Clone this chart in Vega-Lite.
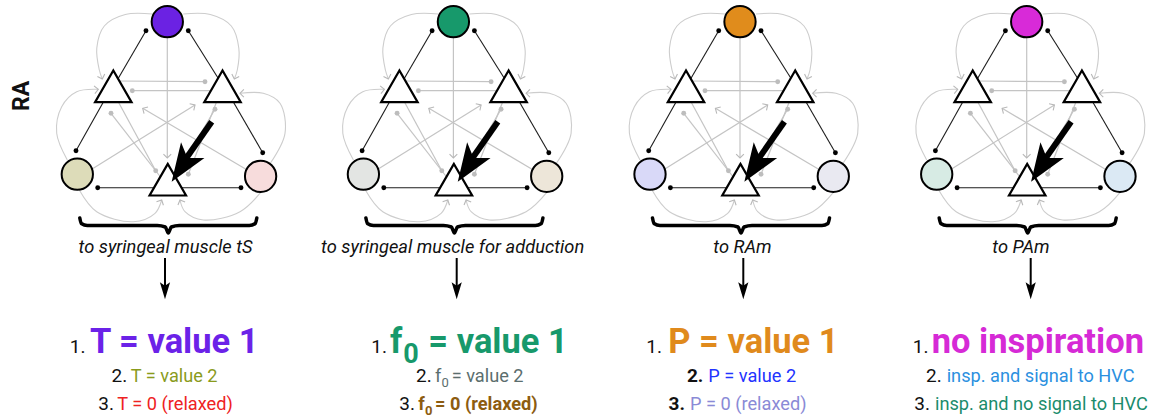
{
  "$schema": "https://vega.github.io/schema/vega-lite/v6.json",
  "width": 1151,
  "height": 419,
  "autosize": {"type": "fit", "contains": "padding"},
  "padding": 0,
  "background": "#ffffff",
  "config": {"view": {"stroke": null}},
  "datasets": {
    "circles": [
      {"x": 167.3, "y": 21.7, "f": "top1"}, {"x": 77.3, "y": 174.2, "f": "l1"}, {"x": 260.6, "y": 176.3, "f": "r1"},
      {"x": 453.4, "y": 21.7, "f": "top2"}, {"x": 363.4, "y": 174.2, "f": "l2"}, {"x": 546.7, "y": 176.3, "f": "r2"},
      {"x": 740.0, "y": 21.7, "f": "top3"}, {"x": 650.0, "y": 174.2, "f": "l3"}, {"x": 833.3, "y": 176.3, "f": "r3"},
      {"x": 1026.7, "y": 21.7, "f": "top4"}, {"x": 936.7, "y": 174.2, "f": "l4"}, {"x": 1120.0, "y": 176.3, "f": "r4"}
    ],
    "tris": [
      {"x": 113.3, "y": 86.3}, {"x": 222.5, "y": 86.3}, {"x": 167.8, "y": 179.7},
      {"x": 399.4, "y": 86.3}, {"x": 508.6, "y": 86.3}, {"x": 453.9, "y": 179.7},
      {"x": 686.0, "y": 86.3}, {"x": 795.2, "y": 86.3}, {"x": 740.5, "y": 179.7},
      {"x": 972.7, "y": 86.3}, {"x": 1081.9, "y": 86.3}, {"x": 1027.2, "y": 179.7}
    ],
    "rules": [
      {"k": "b", "x": 146.0, "y": 30.7, "x2": 117.3, "y2": 80},
      {"k": "b", "x": 188.3, "y": 30.7, "x2": 219.3, "y2": 80},
      {"k": "b", "x": 107.3, "y": 95, "x2": 76.0, "y2": 150.7},
      {"k": "b", "x": 229.3, "y": 95, "x2": 262.7, "y2": 152.7},
      {"k": "b", "x": 97.7, "y": 187.7, "x2": 162.3, "y2": 187.7},
      {"k": "b", "x": 173.3, "y": 187.7, "x2": 241.0, "y2": 187.7},
      {"k": "g", "x": 117.3, "y": 81, "x2": 205.0, "y2": 81.7},
      {"k": "g", "x": 217.3, "y": 90.7, "x2": 132.3, "y2": 90.7},
      {"k": "g", "x": 167.3, "y": 30, "x2": 167.3, "y2": 158},
      {"k": "g", "x": 87.3, "y": 172, "x2": 195.0, "y2": 105},
      {"k": "g", "x": 252.3, "y": 173, "x2": 142.7, "y2": 108.3},
      {"k": "g", "x": 117.3, "y": 100, "x2": 155.7, "y2": 170.7},
      {"k": "g", "x": 111.0, "y": 113.3, "x2": 161.3, "y2": 178},
      {"k": "g", "x": 217.3, "y": 100, "x2": 188.3, "y2": 174.3},
      {"k": "g", "x": 215.0, "y": 109.3, "x2": 174.3, "y2": 178},
      {"k": "w", "x": 211.7, "y": 121.7, "x2": 185.0, "y2": 160},
      {"k": "d", "x": 165, "y": 258, "x2": 165, "y2": 287},

      {"k": "b", "x": 432.1, "y": 30.7, "x2": 403.4, "y2": 80},
      {"k": "b", "x": 474.4, "y": 30.7, "x2": 505.4, "y2": 80},
      {"k": "b", "x": 393.4, "y": 95, "x2": 362.1, "y2": 150.7},
      {"k": "b", "x": 515.4, "y": 95, "x2": 548.8, "y2": 152.7},
      {"k": "b", "x": 383.8, "y": 187.7, "x2": 448.4, "y2": 187.7},
      {"k": "b", "x": 459.4, "y": 187.7, "x2": 527.1, "y2": 187.7},
      {"k": "g", "x": 403.4, "y": 81, "x2": 491.1, "y2": 81.7},
      {"k": "g", "x": 503.4, "y": 90.7, "x2": 418.4, "y2": 90.7},
      {"k": "g", "x": 453.4, "y": 30, "x2": 453.4, "y2": 158},
      {"k": "g", "x": 373.4, "y": 172, "x2": 481.1, "y2": 105},
      {"k": "g", "x": 538.4, "y": 173, "x2": 428.8, "y2": 108.3},
      {"k": "g", "x": 403.4, "y": 100, "x2": 441.8, "y2": 170.7},
      {"k": "g", "x": 397.1, "y": 113.3, "x2": 447.4, "y2": 178},
      {"k": "g", "x": 503.4, "y": 100, "x2": 474.4, "y2": 174.3},
      {"k": "g", "x": 501.1, "y": 109.3, "x2": 460.4, "y2": 178},
      {"k": "w", "x": 497.8, "y": 121.7, "x2": 471.1, "y2": 160},
      {"k": "d", "x": 456.7, "y": 258, "x2": 456.7, "y2": 287},

      {"k": "b", "x": 718.7, "y": 30.7, "x2": 690.0, "y2": 80},
      {"k": "b", "x": 761.0, "y": 30.7, "x2": 792.0, "y2": 80},
      {"k": "b", "x": 680.0, "y": 95, "x2": 648.7, "y2": 150.7},
      {"k": "b", "x": 802.0, "y": 95, "x2": 835.4, "y2": 152.7},
      {"k": "b", "x": 670.4, "y": 187.7, "x2": 735.0, "y2": 187.7},
      {"k": "b", "x": 746.0, "y": 187.7, "x2": 813.7, "y2": 187.7},
      {"k": "g", "x": 690.0, "y": 81, "x2": 777.7, "y2": 81.7},
      {"k": "g", "x": 790.0, "y": 90.7, "x2": 705.0, "y2": 90.7},
      {"k": "g", "x": 740.0, "y": 30, "x2": 740.0, "y2": 158},
      {"k": "g", "x": 660.0, "y": 172, "x2": 767.7, "y2": 105},
      {"k": "g", "x": 825.0, "y": 173, "x2": 715.4, "y2": 108.3},
      {"k": "g", "x": 690.0, "y": 100, "x2": 728.4, "y2": 170.7},
      {"k": "g", "x": 683.7, "y": 113.3, "x2": 734.0, "y2": 178},
      {"k": "g", "x": 790.0, "y": 100, "x2": 761.0, "y2": 174.3},
      {"k": "g", "x": 787.7, "y": 109.3, "x2": 747.0, "y2": 178},
      {"k": "w", "x": 784.4, "y": 121.7, "x2": 757.7, "y2": 160},
      {"k": "d", "x": 743.3, "y": 258, "x2": 743.3, "y2": 287},

      {"k": "b", "x": 1005.4, "y": 30.7, "x2": 976.7, "y2": 80},
      {"k": "b", "x": 1047.7, "y": 30.7, "x2": 1078.7, "y2": 80},
      {"k": "b", "x": 966.7, "y": 95, "x2": 935.4, "y2": 150.7},
      {"k": "b", "x": 1088.7, "y": 95, "x2": 1122.1, "y2": 152.7},
      {"k": "b", "x": 957.1, "y": 187.7, "x2": 1021.7, "y2": 187.7},
      {"k": "b", "x": 1032.7, "y": 187.7, "x2": 1100.4, "y2": 187.7},
      {"k": "g", "x": 976.7, "y": 81, "x2": 1064.4, "y2": 81.7},
      {"k": "g", "x": 1076.7, "y": 90.7, "x2": 991.7, "y2": 90.7},
      {"k": "g", "x": 1026.7, "y": 30, "x2": 1026.7, "y2": 158},
      {"k": "g", "x": 946.7, "y": 172, "x2": 1054.4, "y2": 105},
      {"k": "g", "x": 1111.7, "y": 173, "x2": 1002.1, "y2": 108.3},
      {"k": "g", "x": 976.7, "y": 100, "x2": 1015.1, "y2": 170.7},
      {"k": "g", "x": 970.4, "y": 113.3, "x2": 1020.7, "y2": 178},
      {"k": "g", "x": 1076.7, "y": 100, "x2": 1047.7, "y2": 174.3},
      {"k": "g", "x": 1074.4, "y": 109.3, "x2": 1033.7, "y2": 178},
      {"k": "w", "x": 1071.1, "y": 121.7, "x2": 1044.4, "y2": 160},
      {"k": "d", "x": 1030.7, "y": 258, "x2": 1030.7, "y2": 287}
    ],
    "dots": [
      {"k": "b", "x": 146.0, "y": 30.7}, {"k": "b", "x": 188.3, "y": 30.7}, {"k": "b", "x": 76.0, "y": 150.7}, {"k": "b", "x": 262.7, "y": 152.7}, {"k": "b", "x": 97.7, "y": 187.7}, {"k": "b", "x": 241.0, "y": 187.7},
      {"k": "b", "x": 432.1, "y": 30.7}, {"k": "b", "x": 474.4, "y": 30.7}, {"k": "b", "x": 362.1, "y": 150.7}, {"k": "b", "x": 548.8, "y": 152.7}, {"k": "b", "x": 383.8, "y": 187.7}, {"k": "b", "x": 527.1, "y": 187.7},
      {"k": "b", "x": 718.7, "y": 30.7}, {"k": "b", "x": 761.0, "y": 30.7}, {"k": "b", "x": 648.7, "y": 150.7}, {"k": "b", "x": 835.4, "y": 152.7}, {"k": "b", "x": 670.4, "y": 187.7}, {"k": "b", "x": 813.7, "y": 187.7},
      {"k": "b", "x": 1005.4, "y": 30.7}, {"k": "b", "x": 1047.7, "y": 30.7}, {"k": "b", "x": 935.4, "y": 150.7}, {"k": "b", "x": 1122.1, "y": 152.7}, {"k": "b", "x": 957.1, "y": 187.7}, {"k": "b", "x": 1100.4, "y": 187.7},
      {"k": "g", "x": 205.0, "y": 81.7}, {"k": "g", "x": 132.3, "y": 90.7}, {"k": "g", "x": 155.7, "y": 170.7}, {"k": "g", "x": 111.0, "y": 113.3}, {"k": "g", "x": 188.3, "y": 174.3}, {"k": "g", "x": 215.0, "y": 109.3},
      {"k": "g", "x": 491.1, "y": 81.7}, {"k": "g", "x": 418.4, "y": 90.7}, {"k": "g", "x": 441.8, "y": 170.7}, {"k": "g", "x": 397.1, "y": 113.3}, {"k": "g", "x": 474.4, "y": 174.3}, {"k": "g", "x": 501.1, "y": 109.3},
      {"k": "g", "x": 777.7, "y": 81.7}, {"k": "g", "x": 705.0, "y": 90.7}, {"k": "g", "x": 728.4, "y": 170.7}, {"k": "g", "x": 683.7, "y": 113.3}, {"k": "g", "x": 761.0, "y": 174.3}, {"k": "g", "x": 787.7, "y": 109.3},
      {"k": "g", "x": 1064.4, "y": 81.7}, {"k": "g", "x": 991.7, "y": 90.7}, {"k": "g", "x": 1015.1, "y": 170.7}, {"k": "g", "x": 970.4, "y": 113.3}, {"k": "g", "x": 1047.7, "y": 174.3}, {"k": "g", "x": 1074.4, "y": 109.3}
    ],
    "heads": [
      {"k": "o", "x": 167.3, "y": 158, "a": 0}, {"k": "o", "x": 195.0, "y": 105, "a": 237.8}, {"k": "o", "x": 142.7, "y": 108.3, "a": 120.8},
      {"k": "o", "x": 102.3, "y": 79, "a": 341.6}, {"k": "o", "x": 234.3, "y": 79, "a": 18.4}, {"k": "o", "x": 98.3, "y": 89.3, "a": 263.7},
      {"k": "o", "x": 240.0, "y": 93.3, "a": 90}, {"k": "o", "x": 161.7, "y": 200, "a": 206.8}, {"k": "o", "x": 180.0, "y": 200, "a": 157},
      {"k": "o", "x": 453.4, "y": 158, "a": 0}, {"k": "o", "x": 481.1, "y": 105, "a": 237.8}, {"k": "o", "x": 428.8, "y": 108.3, "a": 120.8},
      {"k": "o", "x": 388.4, "y": 79, "a": 341.6}, {"k": "o", "x": 520.4, "y": 79, "a": 18.4}, {"k": "o", "x": 384.4, "y": 89.3, "a": 263.7},
      {"k": "o", "x": 526.1, "y": 93.3, "a": 90}, {"k": "o", "x": 447.8, "y": 200, "a": 206.8}, {"k": "o", "x": 466.1, "y": 200, "a": 157},
      {"k": "o", "x": 740.0, "y": 158, "a": 0}, {"k": "o", "x": 767.7, "y": 105, "a": 237.8}, {"k": "o", "x": 715.4, "y": 108.3, "a": 120.8},
      {"k": "o", "x": 675.0, "y": 79, "a": 341.6}, {"k": "o", "x": 807.0, "y": 79, "a": 18.4}, {"k": "o", "x": 671.0, "y": 89.3, "a": 263.7},
      {"k": "o", "x": 812.7, "y": 93.3, "a": 90}, {"k": "o", "x": 734.4, "y": 200, "a": 206.8}, {"k": "o", "x": 752.7, "y": 200, "a": 157},
      {"k": "o", "x": 1026.7, "y": 158, "a": 0}, {"k": "o", "x": 1054.4, "y": 105, "a": 237.8}, {"k": "o", "x": 1002.1, "y": 108.3, "a": 120.8},
      {"k": "o", "x": 961.7, "y": 79, "a": 341.6}, {"k": "o", "x": 1093.7, "y": 79, "a": 18.4}, {"k": "o", "x": 957.7, "y": 89.3, "a": 263.7},
      {"k": "o", "x": 1099.4, "y": 93.3, "a": 90}, {"k": "o", "x": 1021.1, "y": 200, "a": 206.8}, {"k": "o", "x": 1039.4, "y": 200, "a": 157},
      {"k": "w", "x": 182.2, "y": 165.9, "a": 33.7}, {"k": "w", "x": 468.3, "y": 165.9, "a": 33.7}, {"k": "w", "x": 754.9, "y": 165.9, "a": 33.7}, {"k": "w", "x": 1041.6, "y": 165.9, "a": 33.7},
      {"k": "d", "x": 165, "y": 290.8, "a": 0}, {"k": "d", "x": 456.7, "y": 290.8, "a": 0}, {"k": "d", "x": 743.3, "y": 290.8, "a": 0}, {"k": "d", "x": 1030.7, "y": 290.8, "a": 0}
    ],
    "curves": [
      {"id": "1a", "i": 0, "x": 152.3, "y": 14}, {"id": "1a", "i": 1, "x": 125.3, "y": 14.5}, {"id": "1a", "i": 2, "x": 104.3, "y": 26}, {"id": "1a", "i": 3, "x": 96.8, "y": 48}, {"id": "1a", "i": 4, "x": 99.3, "y": 70}, {"id": "1a", "i": 5, "x": 102.3, "y": 79},
      {"id": "1b", "i": 0, "x": 183.3, "y": 14}, {"id": "1b", "i": 1, "x": 210.3, "y": 14.5}, {"id": "1b", "i": 2, "x": 231.3, "y": 26}, {"id": "1b", "i": 3, "x": 238.8, "y": 48}, {"id": "1b", "i": 4, "x": 237.3, "y": 70}, {"id": "1b", "i": 5, "x": 234.3, "y": 79},
      {"id": "1c", "i": 0, "x": 67.3, "y": 160}, {"id": "1c", "i": 1, "x": 56.7, "y": 133.3}, {"id": "1c", "i": 2, "x": 61.7, "y": 106.7}, {"id": "1c", "i": 3, "x": 76.7, "y": 91.7}, {"id": "1c", "i": 4, "x": 98.3, "y": 89.3},
      {"id": "1d", "i": 0, "x": 270.3, "y": 163.3}, {"id": "1d", "i": 1, "x": 285.0, "y": 133.3}, {"id": "1d", "i": 2, "x": 280.0, "y": 103.3}, {"id": "1d", "i": 3, "x": 263.3, "y": 93.3}, {"id": "1d", "i": 4, "x": 240.0, "y": 93.3},
      {"id": "1e", "i": 0, "x": 79.3, "y": 190}, {"id": "1e", "i": 1, "x": 96.7, "y": 211.7}, {"id": "1e", "i": 2, "x": 133.3, "y": 221.7}, {"id": "1e", "i": 3, "x": 155.0, "y": 213.3}, {"id": "1e", "i": 4, "x": 161.7, "y": 200},
      {"id": "1f", "i": 0, "x": 261.3, "y": 191.7}, {"id": "1f", "i": 1, "x": 240.0, "y": 211.7}, {"id": "1f", "i": 2, "x": 203.3, "y": 220}, {"id": "1f", "i": 3, "x": 185.0, "y": 211.7}, {"id": "1f", "i": 4, "x": 180.0, "y": 200},

      {"id": "2a", "i": 0, "x": 438.4, "y": 14}, {"id": "2a", "i": 1, "x": 411.4, "y": 14.5}, {"id": "2a", "i": 2, "x": 390.4, "y": 26}, {"id": "2a", "i": 3, "x": 382.9, "y": 48}, {"id": "2a", "i": 4, "x": 385.4, "y": 70}, {"id": "2a", "i": 5, "x": 388.4, "y": 79},
      {"id": "2b", "i": 0, "x": 469.4, "y": 14}, {"id": "2b", "i": 1, "x": 496.4, "y": 14.5}, {"id": "2b", "i": 2, "x": 517.4, "y": 26}, {"id": "2b", "i": 3, "x": 524.9, "y": 48}, {"id": "2b", "i": 4, "x": 523.4, "y": 70}, {"id": "2b", "i": 5, "x": 520.4, "y": 79},
      {"id": "2c", "i": 0, "x": 353.4, "y": 160}, {"id": "2c", "i": 1, "x": 342.8, "y": 133.3}, {"id": "2c", "i": 2, "x": 347.8, "y": 106.7}, {"id": "2c", "i": 3, "x": 362.8, "y": 91.7}, {"id": "2c", "i": 4, "x": 384.4, "y": 89.3},
      {"id": "2d", "i": 0, "x": 556.4, "y": 163.3}, {"id": "2d", "i": 1, "x": 571.1, "y": 133.3}, {"id": "2d", "i": 2, "x": 566.1, "y": 103.3}, {"id": "2d", "i": 3, "x": 549.4, "y": 93.3}, {"id": "2d", "i": 4, "x": 526.1, "y": 93.3},
      {"id": "2e", "i": 0, "x": 365.4, "y": 190}, {"id": "2e", "i": 1, "x": 382.8, "y": 211.7}, {"id": "2e", "i": 2, "x": 419.4, "y": 221.7}, {"id": "2e", "i": 3, "x": 441.1, "y": 213.3}, {"id": "2e", "i": 4, "x": 447.8, "y": 200},
      {"id": "2f", "i": 0, "x": 547.4, "y": 191.7}, {"id": "2f", "i": 1, "x": 526.1, "y": 211.7}, {"id": "2f", "i": 2, "x": 489.4, "y": 220}, {"id": "2f", "i": 3, "x": 471.1, "y": 211.7}, {"id": "2f", "i": 4, "x": 466.1, "y": 200},

      {"id": "3a", "i": 0, "x": 725.0, "y": 14}, {"id": "3a", "i": 1, "x": 698.0, "y": 14.5}, {"id": "3a", "i": 2, "x": 677.0, "y": 26}, {"id": "3a", "i": 3, "x": 669.5, "y": 48}, {"id": "3a", "i": 4, "x": 672.0, "y": 70}, {"id": "3a", "i": 5, "x": 675.0, "y": 79},
      {"id": "3b", "i": 0, "x": 756.0, "y": 14}, {"id": "3b", "i": 1, "x": 783.0, "y": 14.5}, {"id": "3b", "i": 2, "x": 804.0, "y": 26}, {"id": "3b", "i": 3, "x": 811.5, "y": 48}, {"id": "3b", "i": 4, "x": 810.0, "y": 70}, {"id": "3b", "i": 5, "x": 807.0, "y": 79},
      {"id": "3c", "i": 0, "x": 640.0, "y": 160}, {"id": "3c", "i": 1, "x": 629.4, "y": 133.3}, {"id": "3c", "i": 2, "x": 634.4, "y": 106.7}, {"id": "3c", "i": 3, "x": 649.4, "y": 91.7}, {"id": "3c", "i": 4, "x": 671.0, "y": 89.3},
      {"id": "3d", "i": 0, "x": 843.0, "y": 163.3}, {"id": "3d", "i": 1, "x": 857.7, "y": 133.3}, {"id": "3d", "i": 2, "x": 852.7, "y": 103.3}, {"id": "3d", "i": 3, "x": 836.0, "y": 93.3}, {"id": "3d", "i": 4, "x": 812.7, "y": 93.3},
      {"id": "3e", "i": 0, "x": 652.0, "y": 190}, {"id": "3e", "i": 1, "x": 669.4, "y": 211.7}, {"id": "3e", "i": 2, "x": 706.0, "y": 221.7}, {"id": "3e", "i": 3, "x": 727.7, "y": 213.3}, {"id": "3e", "i": 4, "x": 734.4, "y": 200},
      {"id": "3f", "i": 0, "x": 834.0, "y": 191.7}, {"id": "3f", "i": 1, "x": 812.7, "y": 211.7}, {"id": "3f", "i": 2, "x": 776.0, "y": 220}, {"id": "3f", "i": 3, "x": 757.7, "y": 211.7}, {"id": "3f", "i": 4, "x": 752.7, "y": 200},

      {"id": "4a", "i": 0, "x": 1011.7, "y": 14}, {"id": "4a", "i": 1, "x": 984.7, "y": 14.5}, {"id": "4a", "i": 2, "x": 963.7, "y": 26}, {"id": "4a", "i": 3, "x": 956.2, "y": 48}, {"id": "4a", "i": 4, "x": 958.7, "y": 70}, {"id": "4a", "i": 5, "x": 961.7, "y": 79},
      {"id": "4b", "i": 0, "x": 1042.7, "y": 14}, {"id": "4b", "i": 1, "x": 1069.7, "y": 14.5}, {"id": "4b", "i": 2, "x": 1090.7, "y": 26}, {"id": "4b", "i": 3, "x": 1098.2, "y": 48}, {"id": "4b", "i": 4, "x": 1096.7, "y": 70}, {"id": "4b", "i": 5, "x": 1093.7, "y": 79},
      {"id": "4c", "i": 0, "x": 926.7, "y": 160}, {"id": "4c", "i": 1, "x": 916.1, "y": 133.3}, {"id": "4c", "i": 2, "x": 921.1, "y": 106.7}, {"id": "4c", "i": 3, "x": 936.1, "y": 91.7}, {"id": "4c", "i": 4, "x": 957.7, "y": 89.3},
      {"id": "4d", "i": 0, "x": 1129.7, "y": 163.3}, {"id": "4d", "i": 1, "x": 1144.4, "y": 133.3}, {"id": "4d", "i": 2, "x": 1139.4, "y": 103.3}, {"id": "4d", "i": 3, "x": 1122.7, "y": 93.3}, {"id": "4d", "i": 4, "x": 1099.4, "y": 93.3},
      {"id": "4e", "i": 0, "x": 938.7, "y": 190}, {"id": "4e", "i": 1, "x": 956.1, "y": 211.7}, {"id": "4e", "i": 2, "x": 992.7, "y": 221.7}, {"id": "4e", "i": 3, "x": 1014.4, "y": 213.3}, {"id": "4e", "i": 4, "x": 1021.1, "y": 200},
      {"id": "4f", "i": 0, "x": 1120.7, "y": 191.7}, {"id": "4f", "i": 1, "x": 1099.4, "y": 211.7}, {"id": "4f", "i": 2, "x": 1062.7, "y": 220}, {"id": "4f", "i": 3, "x": 1044.4, "y": 211.7}, {"id": "4f", "i": 4, "x": 1039.4, "y": 200}
    ],
    "braces": [
      {"id": 1, "x": 79.8, "y": 218}, {"id": 1, "x": 81.3, "y": 223.5}, {"id": 1, "x": 87.3, "y": 225.5}, {"id": 1, "x": 157.3, "y": 225.5}, {"id": 1, "x": 165.3, "y": 227}, {"id": 1, "x": 168.3, "y": 233}, {"id": 1, "x": 171.3, "y": 227}, {"id": 1, "x": 179.3, "y": 225.5}, {"id": 1, "x": 249.3, "y": 225.5}, {"id": 1, "x": 255.3, "y": 223.5}, {"id": 1, "x": 256.8, "y": 218},
      {"id": 2, "x": 365.9, "y": 218}, {"id": 2, "x": 367.4, "y": 223.5}, {"id": 2, "x": 373.4, "y": 225.5}, {"id": 2, "x": 443.4, "y": 225.5}, {"id": 2, "x": 451.4, "y": 227}, {"id": 2, "x": 454.4, "y": 233}, {"id": 2, "x": 457.4, "y": 227}, {"id": 2, "x": 465.4, "y": 225.5}, {"id": 2, "x": 535.4, "y": 225.5}, {"id": 2, "x": 541.4, "y": 223.5}, {"id": 2, "x": 542.9, "y": 218},
      {"id": 3, "x": 652.5, "y": 218}, {"id": 3, "x": 654.0, "y": 223.5}, {"id": 3, "x": 660.0, "y": 225.5}, {"id": 3, "x": 730.0, "y": 225.5}, {"id": 3, "x": 738.0, "y": 227}, {"id": 3, "x": 741.0, "y": 233}, {"id": 3, "x": 744.0, "y": 227}, {"id": 3, "x": 752.0, "y": 225.5}, {"id": 3, "x": 822.0, "y": 225.5}, {"id": 3, "x": 828.0, "y": 223.5}, {"id": 3, "x": 829.5, "y": 218},
      {"id": 4, "x": 939.2, "y": 218}, {"id": 4, "x": 940.7, "y": 223.5}, {"id": 4, "x": 946.7, "y": 225.5}, {"id": 4, "x": 1016.7, "y": 225.5}, {"id": 4, "x": 1024.7, "y": 227}, {"id": 4, "x": 1027.7, "y": 233}, {"id": 4, "x": 1030.7, "y": 227}, {"id": 4, "x": 1038.7, "y": 225.5}, {"id": 4, "x": 1108.7, "y": 225.5}, {"id": 4, "x": 1114.7, "y": 223.5}, {"id": 4, "x": 1116.2, "y": 218}
    ],
    "texts": [
      {"st": "ital", "c": "k", "x": 165.5, "y": 253.3, "t": "to syringeal muscle tS"},
      {"st": "ital", "c": "k", "x": 452.7, "y": 253.3, "t": "to syringeal muscle for adduction"},
      {"st": "ital", "c": "k", "x": 742.5, "y": 253.3, "t": "to RAm"},
      {"st": "ital", "c": "k", "x": 1021, "y": 253.3, "t": "to PAm"},
      {"st": "num", "c": "k", "x": 85.5, "y": 353.3, "t": "1."},
      {"st": "num", "c": "k", "x": 387, "y": 353.3, "t": "1."},
      {"st": "num", "c": "k", "x": 662, "y": 353.3, "t": "1."},
      {"st": "num", "c": "k", "x": 928.5, "y": 353.3, "t": "1."},
      {"st": "num", "c": "k", "x": 127.3, "y": 381.7, "t": "2."},
      {"st": "num", "c": "k", "x": 431.7, "y": 381.7, "t": "2."},
      {"st": "numb", "c": "k", "x": 703.3, "y": 381.7, "t": "2."},
      {"st": "num", "c": "k", "x": 941.7, "y": 381.7, "t": "2."},
      {"st": "num", "c": "k", "x": 114, "y": 410, "t": "3."},
      {"st": "num", "c": "k", "x": 415, "y": 410, "t": "3."},
      {"st": "numb", "c": "k", "x": 685, "y": 410, "t": "3."},
      {"st": "num", "c": "k", "x": 930, "y": 410, "t": "3."},
      {"st": "big", "c": "purple", "x": 90, "y": 353.3, "t": "T = value 1"},
      {"st": "big", "c": "green", "x": 390, "y": 353.3, "t": "f"},
      {"st": "bigsub", "c": "green", "x": 403.3, "y": 362.5, "t": "0"},
      {"st": "big", "c": "green", "x": 428.3, "y": 353.3, "t": "= value 1"},
      {"st": "big", "c": "orange", "x": 668.3, "y": 353.3, "t": "P = value 1"},
      {"st": "big", "c": "magenta", "x": 931.7, "y": 353.3, "t": "no inspiration"},
      {"st": "med", "c": "olive", "x": 130.7, "y": 381.7, "t": "T = value 2"},
      {"st": "med", "c": "slate", "x": 435, "y": 381.7, "t": "f"},
      {"st": "sub", "c": "slate", "x": 441.5, "y": 386.5, "t": "0"},
      {"st": "med", "c": "slate", "x": 451.7, "y": 381.7, "t": "= value 2"},
      {"st": "med", "c": "blue", "x": 708.3, "y": 381.7, "t": "P = value 2"},
      {"st": "med", "c": "sky", "x": 946.7, "y": 381.7, "t": "insp. and signal to HVC"},
      {"st": "med", "c": "red", "x": 117.3, "y": 410, "t": "T = 0 (relaxed)"},
      {"st": "medb", "c": "brown", "x": 418.3, "y": 410, "t": "f"},
      {"st": "subb", "c": "brown", "x": 425, "y": 414.8, "t": "0"},
      {"st": "medb", "c": "brown", "x": 435, "y": 410, "t": "= 0 (relaxed)"},
      {"st": "med", "c": "lavender", "x": 690, "y": 410, "t": "P = 0 (relaxed)"},
      {"st": "med", "c": "teal", "x": 935, "y": 410, "t": "insp. and no signal to HVC"},
      {"st": "ra", "c": "k", "x": 22, "y": 96, "t": "RA"}
    ]
  },
  "encoding": {
    "x": {"field": "x", "type": "quantitative", "scale": {"domain": [0, 1151], "nice": false, "zero": false}, "axis": null},
    "y": {"field": "y", "type": "quantitative", "scale": {"domain": [0, 419], "reverse": true, "nice": false, "zero": false}, "axis": null}
  },
  "layer": [
    {
      "data": {"name": "curves"},
      "mark": {"type": "line", "interpolate": "catmull-rom", "stroke": "#cdcdcd", "strokeWidth": 1.1},
      "encoding": {"detail": {"field": "id", "type": "nominal"}, "order": {"field": "i", "type": "quantitative"}}
    },
    {
      "data": {"name": "rules"},
      "transform": [{"filter": "datum.k === 'g'"}],
      "mark": {"type": "rule", "stroke": "#c4c4c4", "strokeWidth": 1.2},
      "encoding": {"x2": {"field": "x2"}, "y2": {"field": "y2"}}
    },
    {
      "data": {"name": "dots"},
      "transform": [{"filter": "datum.k === 'g'"}],
      "mark": {"type": "point", "shape": "circle", "filled": true, "color": "#bdbdbd", "opacity": 1, "size": 24}
    },
    {
      "data": {"name": "heads"},
      "transform": [{"filter": "datum.k === 'o'"}],
      "mark": {"type": "point", "shape": "M-1,-1L0,0L1,-1", "filled": false, "stroke": "#b8b8b8", "strokeWidth": 1.1, "opacity": 1, "size": 60},
      "encoding": {"angle": {"field": "a", "type": "quantitative", "scale": null}}
    },
    {
      "data": {"name": "rules"},
      "transform": [{"filter": "datum.k === 'b'"}],
      "mark": {"type": "rule", "stroke": "#1c1c1c", "strokeWidth": 1.1},
      "encoding": {"x2": {"field": "x2"}, "y2": {"field": "y2"}}
    },
    {
      "data": {"name": "dots"},
      "transform": [{"filter": "datum.k === 'b'"}],
      "mark": {"type": "point", "shape": "circle", "filled": true, "color": "#000000", "opacity": 1, "size": 24}
    },
    {
      "data": {"name": "circles"},
      "mark": {"type": "point", "shape": "circle", "filled": true, "stroke": "#000000", "strokeWidth": 2, "opacity": 1, "size": 980},
      "encoding": {
        "fill": {"field": "f", "type": "nominal", "legend": null,
          "scale": {"domain": ["top1", "top2", "top3", "top4", "l1", "r1", "l2", "r2", "l3", "r3", "l4", "r4"],
                    "range": ["#6b22e3", "#17996b", "#e08c1c", "#d82ad8", "#dddcb9", "#f7dcdc", "#e3e5e3", "#ede6d9", "#d9d9f8", "#e9e9f1", "#d7ebe4", "#dbe9f4"]}}
      }
    },
    {
      "data": {"name": "tris"},
      "mark": {"type": "point", "shape": "triangle-up", "filled": true, "fill": "#ffffff", "stroke": "#000000", "strokeWidth": 2.2, "opacity": 1, "size": 1330}
    },
    {
      "data": {"name": "rules"},
      "transform": [{"filter": "datum.k === 'w'"}],
      "mark": {"type": "rule", "stroke": "#000000", "strokeWidth": 6},
      "encoding": {"x2": {"field": "x2"}, "y2": {"field": "y2"}}
    },
    {
      "data": {"name": "heads"},
      "transform": [{"filter": "datum.k === 'w'"}],
      "mark": {"type": "point", "shape": "M0,1L-0.74,-1L0,-0.5L0.74,-1Z", "filled": true, "color": "#000000", "opacity": 1, "size": 1444},
      "encoding": {"angle": {"field": "a", "type": "quantitative", "scale": null}}
    },
    {
      "data": {"name": "rules"},
      "transform": [{"filter": "datum.k === 'd'"}],
      "mark": {"type": "rule", "stroke": "#000000", "strokeWidth": 2},
      "encoding": {"x2": {"field": "x2"}, "y2": {"field": "y2"}}
    },
    {
      "data": {"name": "heads"},
      "transform": [{"filter": "datum.k === 'd'"}],
      "mark": {"type": "point", "shape": "M0,1L-0.6,-1L0,-0.6L0.6,-1Z", "filled": true, "color": "#000000", "opacity": 1, "size": 289},
      "encoding": {"angle": {"field": "a", "type": "quantitative", "scale": null}}
    },
    {
      "data": {"name": "braces"},
      "mark": {"type": "line", "interpolate": "monotone", "stroke": "#000000", "strokeWidth": 3.5, "strokeCap": "round"},
      "encoding": {"detail": {"field": "id", "type": "nominal"}, "order": {"field": "x", "type": "quantitative"}}
    },
    {
      "data": {"name": "texts"},
      "transform": [{"filter": "datum.st === 'ital'"}],
      "mark": {"type": "text", "font": "Roboto, sans-serif", "fontStyle": "italic", "fontSize": 18.3, "align": "center", "baseline": "alphabetic", "color": "#111111"},
      "encoding": {"text": {"field": "t"}}
    },
    {
      "data": {"name": "texts"},
      "transform": [{"filter": "datum.st === 'ra'"}],
      "mark": {"type": "text", "font": "Roboto, sans-serif", "fontWeight": "bold", "fontSize": 23, "align": "center", "baseline": "middle", "angle": 270, "color": "#111111"},
      "encoding": {"text": {"field": "t"}}
    },
    {
      "data": {"name": "texts"},
      "transform": [{"filter": "datum.st === 'num'"}],
      "mark": {"type": "text", "font": "Roboto, sans-serif", "fontSize": 19, "align": "right", "baseline": "alphabetic", "color": "#111111"},
      "encoding": {"text": {"field": "t"}}
    },
    {
      "data": {"name": "texts"},
      "transform": [{"filter": "datum.st === 'numb'"}],
      "mark": {"type": "text", "font": "Roboto, sans-serif", "fontWeight": "bold", "fontSize": 19, "align": "right", "baseline": "alphabetic", "color": "#111111"},
      "encoding": {"text": {"field": "t"}}
    },
    {
      "data": {"name": "texts"},
      "transform": [{"filter": "datum.st === 'big'"}],
      "mark": {"type": "text", "font": "Roboto, sans-serif", "fontWeight": "bold", "fontSize": 34.5, "align": "left", "baseline": "alphabetic"},
      "encoding": {"text": {"field": "t"}, "color": {"field": "c", "type": "nominal", "legend": null, "scale": {"domain": ["k", "purple", "green", "orange", "magenta", "olive", "red", "slate", "brown", "blue", "lavender", "sky", "teal"], "range": ["#111111", "#6b22e8", "#17996b", "#e08a1c", "#d62ad6", "#8a9b1c", "#ee2222", "#5b6e6e", "#8d5c10", "#2233ff", "#8a8ad6", "#2b90df", "#1a8c6c"]}}}
    },
    {
      "data": {"name": "texts"},
      "transform": [{"filter": "datum.st === 'bigsub'"}],
      "mark": {"type": "text", "font": "Roboto, sans-serif", "fontWeight": "bold", "fontSize": 27, "align": "left", "baseline": "alphabetic"},
      "encoding": {"text": {"field": "t"}, "color": {"field": "c", "type": "nominal", "legend": null, "scale": {"domain": ["k", "purple", "green", "orange", "magenta", "olive", "red", "slate", "brown", "blue", "lavender", "sky", "teal"], "range": ["#111111", "#6b22e8", "#17996b", "#e08a1c", "#d62ad6", "#8a9b1c", "#ee2222", "#5b6e6e", "#8d5c10", "#2233ff", "#8a8ad6", "#2b90df", "#1a8c6c"]}}}
    },
    {
      "data": {"name": "texts"},
      "transform": [{"filter": "datum.st === 'med'"}],
      "mark": {"type": "text", "font": "Roboto, sans-serif", "fontSize": 18.2, "align": "left", "baseline": "alphabetic"},
      "encoding": {"text": {"field": "t"}, "color": {"field": "c", "type": "nominal", "legend": null, "scale": {"domain": ["k", "purple", "green", "orange", "magenta", "olive", "red", "slate", "brown", "blue", "lavender", "sky", "teal"], "range": ["#111111", "#6b22e8", "#17996b", "#e08a1c", "#d62ad6", "#8a9b1c", "#ee2222", "#5b6e6e", "#8d5c10", "#2233ff", "#8a8ad6", "#2b90df", "#1a8c6c"]}}}
    },
    {
      "data": {"name": "texts"},
      "transform": [{"filter": "datum.st === 'medb'"}],
      "mark": {"type": "text", "font": "Roboto, sans-serif", "fontWeight": "bold", "fontSize": 18.2, "align": "left", "baseline": "alphabetic"},
      "encoding": {"text": {"field": "t"}, "color": {"field": "c", "type": "nominal", "legend": null, "scale": {"domain": ["k", "purple", "green", "orange", "magenta", "olive", "red", "slate", "brown", "blue", "lavender", "sky", "teal"], "range": ["#111111", "#6b22e8", "#17996b", "#e08a1c", "#d62ad6", "#8a9b1c", "#ee2222", "#5b6e6e", "#8d5c10", "#2233ff", "#8a8ad6", "#2b90df", "#1a8c6c"]}}}
    },
    {
      "data": {"name": "texts"},
      "transform": [{"filter": "datum.st === 'sub'"}],
      "mark": {"type": "text", "font": "Roboto, sans-serif", "fontSize": 13, "align": "left", "baseline": "alphabetic"},
      "encoding": {"text": {"field": "t"}, "color": {"field": "c", "type": "nominal", "legend": null, "scale": {"domain": ["k", "purple", "green", "orange", "magenta", "olive", "red", "slate", "brown", "blue", "lavender", "sky", "teal"], "range": ["#111111", "#6b22e8", "#17996b", "#e08a1c", "#d62ad6", "#8a9b1c", "#ee2222", "#5b6e6e", "#8d5c10", "#2233ff", "#8a8ad6", "#2b90df", "#1a8c6c"]}}}
    },
    {
      "data": {"name": "texts"},
      "transform": [{"filter": "datum.st === 'subb'"}],
      "mark": {"type": "text", "font": "Roboto, sans-serif", "fontWeight": "bold", "fontSize": 13, "align": "left", "baseline": "alphabetic"},
      "encoding": {"text": {"field": "t"}, "color": {"field": "c", "type": "nominal", "legend": null, "scale": {"domain": ["k", "purple", "green", "orange", "magenta", "olive", "red", "slate", "brown", "blue", "lavender", "sky", "teal"], "range": ["#111111", "#6b22e8", "#17996b", "#e08a1c", "#d62ad6", "#8a9b1c", "#ee2222", "#5b6e6e", "#8d5c10", "#2233ff", "#8a8ad6", "#2b90df", "#1a8c6c"]}}}
    }
  ]
}
